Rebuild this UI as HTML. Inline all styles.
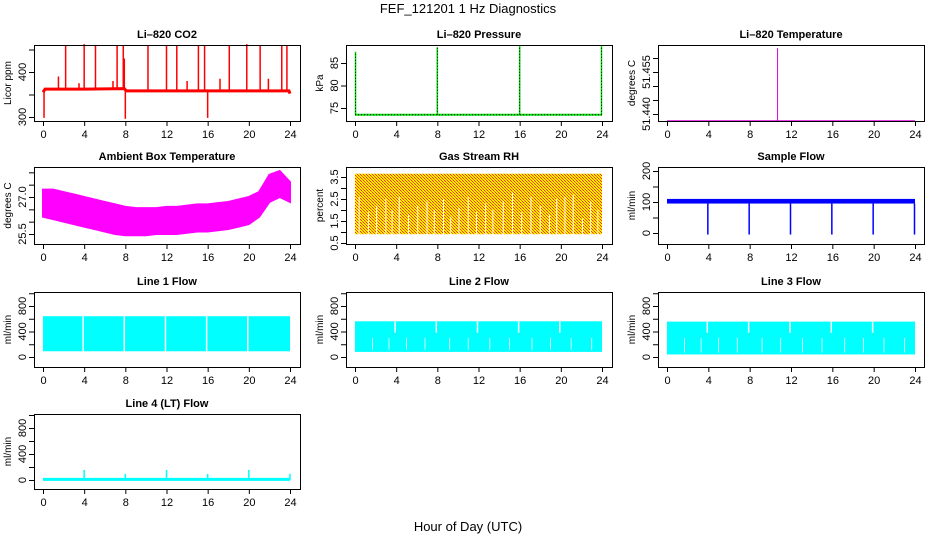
<!DOCTYPE html>
<html><head><meta charset="utf-8"><style>
html,body{margin:0;padding:0;background:#fff;width:936px;height:540px;overflow:hidden}
svg{display:block;font-family:"Liberation Sans",sans-serif}
</style></head><body>
<svg id="c" width="936" height="540" xmlns="http://www.w3.org/2000/svg">
<defs><pattern id="rh" width="3" height="3" patternUnits="userSpaceOnUse"><rect width="3" height="3" fill="#ffee00"/><rect width="1" height="1" fill="#ff3000"/><rect x="1" y="1" width="1" height="1" fill="#ff3000"/><rect x="2" y="2" width="1" height="1" fill="#ff6000"/></pattern></defs>
<text x="468" y="13" text-anchor="middle" font-size="13">FEF_121201  1 Hz Diagnostics</text>
<text x="468" y="531" text-anchor="middle" font-size="13">Hour of Day (UTC)</text>
</svg>
<script>
// ---- data ----
const xTicks=[0,4,8,12,16,20,24];
const co2BaseT=[0,0.2,4,7.9,8.1,12,16,20,23.9,24];
const co2BaseV=[355,362,362,363,358,358,358,358,358,352];
const co2SpikeT=[0.1,2.2,4,5.1,7.2,7.8,7.9,8,10.2,12,13,15.1,15.7,16,18.1,19.8,21.1,23.2,23.7,1.5,3.5,6.8,14,17.2,21.9];
const co2SpikeV=[298,460,462,460,460,460,430,296,460,460,460,460,460,298,460,462,460,460,460,390,375,380,380,385,385];
const presSpikeT=[0.05,8,16,23.95];
const presSpikeV=[87.5,88.5,89,89];
const presBase=73.5;
const ltempBase=51.4375, ltempSpikeT=10.7, ltempSpikeV=51.4635;
const ambT=[0,1,2,3,4,5,6,7,8,9,10,11,12,13,14,15,16,17,18,19,20,21,22,23,24];
const ambHi=[27.3,27.3,27.2,27.1,27.0,26.9,26.8,26.7,26.6,26.55,26.55,26.55,26.6,26.6,26.65,26.7,26.7,26.75,26.8,26.9,27.0,27.2,27.9,28.05,27.6];
const ambLo=[26.2,26.1,26.0,25.9,25.8,25.7,25.6,25.5,25.45,25.45,25.45,25.5,25.5,25.5,25.55,25.6,25.6,25.65,25.7,25.8,25.9,26.2,26.8,27.0,26.8];
const rhHi=3.65, rhLo=0.9;
const rhGapT=[0.4,1.3,2.1,3.0,3.6,4.3,5.2,6.1,7.0,7.7,8.6,9.3,10.1,11.0,11.8,12.7,13.4,14.4,15.3,16.2,17.1,18.0,18.9,19.6,20.4,21.2,22.1,22.9,23.6];
const rhGapV=[2.6,1.9,2.2,2.5,2.0,2.6,1.8,2.2,2.4,2.0,2.5,1.7,2.1,2.6,1.9,2.3,2.0,2.4,2.8,1.9,2.6,2.2,1.8,2.5,2.6,2.7,1.6,2.4,2.0];
const sfHi=110, sfLo=95;
const sfDipT=[4,8,12,16,20,24];
const sfDipV=[-5,-5,-5,-5,-5,-5];
const l1Hi=640,l1Lo=90;
const l2Hi=560,l2Lo=80;
const l3Hi=555,l3Lo=40;
const blockGapT=[3.9,7.9,11.9,15.9,19.9];
const flowGapT=[1.7,3.3,5.0,6.8,9.2,11.0,13.1,15.0,17.2,19.0,21.0,23.0];
const l4Base=20;
const l4SpikeT=[4,8,12,16,20,24];
const l4SpikeV=[155,95,155,95,155,95];

// ---- layout ----
const cols=[{L:34,R:300,x0:43,x1:290},{L:346,R:612,x0:355,x1:602},{L:658,R:924,x0:667,x1:915}];
const rows=[{T:45,B:121},{T:167,B:244},{T:292,B:367},{T:414,B:489}];
const S=document.getElementById('c');
const NS='http://www.w3.org/2000/svg';
function el(tag,at,parent){const e=document.createElementNS(NS,tag);for(const k in at)e.setAttribute(k,at[k]);(parent||S).appendChild(e);return e;}
function panel(ci,ri,name,title,ylab,v0,p0,v1,p1,yticks,ylabels){
  const c=cols[ci],r=rows[ri];
  const g=el('g',{});
  
  
  const xs=t=>c.x0+(c.x1-c.x0)*t/24;
  const ys=v=>p0+(p1-p0)*(v-v0)/(v1-v0);
  const t=el('text',{x:(c.L+c.R)/2,y:r.T-7,'text-anchor':'middle','font-size':11,'font-weight':'bold'},g);t.textContent=title;
  
  
  const plot=el('g',{},g);
  const box=el('rect',{x:c.L+.5,y:r.T+.5,width:c.R-c.L,height:r.B-r.T,fill:'none',stroke:'#000'},g);
  
  
  const xa=el('g',{},g);
  
  
  xTicks.forEach(v=>{el('line',{x1:xs(v)+.5,x2:xs(v)+.5,y1:r.B,y2:r.B+5,stroke:'#000'},xa);
    const tx=el('text',{x:xs(v)+.5,y:r.B+17,'text-anchor':'middle','font-size':11},xa);tx.textContent=v;});
  const ya=el('g',{},g);
  
  
  yticks.forEach(v=>{el('line',{x1:c.L-5,x2:c.L,y1:ys(v)+.5,y2:ys(v)+.5,stroke:'#000'},ya);});
  ylabels.forEach(v=>{const y=ys(Number(v));const tx=el('text',{x:0,y:0,transform:`translate(${c.L-8},${y}) rotate(-90)`,'text-anchor':'middle','font-size':11},ya);tx.textContent=v;});
  const yl=el('text',{x:0,y:0,transform:`translate(${c.L-23},${(r.T+r.B)/2}) rotate(-90)`,'text-anchor':'middle','font-size':10},g);yl.textContent=ylab;
  
  
  return {plot,xs,ys};
}
function vline(p,x,ya,yb,col,w){return el('line',{x1:x,x2:x,y1:ya,y2:yb,stroke:col,'stroke-width':w||1},p);}

// CO2
{const P=panel(0,0,'co2','Li\u2013820 CO2','Licor ppm',300,117,400,72,[300,350,400,450],[300,400]);
 let d='';co2BaseT.forEach((t,i)=>{d+=(i?'L':'M')+P.xs(t)+' '+P.ys(co2BaseV[i]);});
 const ln=el('path',{d,fill:'none',stroke:'#ff0000','stroke-width':3},P.plot);
 
 co2SpikeT.forEach((t,i)=>{const b=P.ys(t<8?362:358);const s=vline(P.plot,P.xs(t),b,P.ys(co2SpikeV[i]),'#ff0000',1.5);
  });}
// Pressure
{const P=panel(1,0,'pressure','Li\u2013820 Pressure','kPa',75,108,85,63,[75,80,85],[75,80,85]);
 const b=el('line',{x1:P.xs(0),x2:P.xs(24),y1:P.ys(presBase),y2:P.ys(presBase),stroke:'#00dd00','stroke-width':2},P.plot);
 
 el('line',{x1:P.xs(0),x2:P.xs(24),y1:P.ys(presBase),y2:P.ys(presBase),stroke:'#000','stroke-width':1,'stroke-dasharray':'1 2'},P.plot);
 presSpikeT.forEach((t,i)=>{const s=vline(P.plot,P.xs(t),P.ys(presBase),P.ys(presSpikeV[i]),'#00dd00',1.5);
  
  el('line',{x1:P.xs(t),x2:P.xs(t),y1:P.ys(presBase),y2:P.ys(presSpikeV[i]),stroke:'#000','stroke-dasharray':'1 2'},P.plot);});}
// Li temp
{const P=panel(2,0,'li820-temp','Li\u2013820 Temperature','degrees C',51.44,114,51.455,72,[51.44,51.445,51.45,51.455,51.46],['51.440','51.455']);
 const b=el('line',{x1:P.xs(0),x2:P.xs(24),y1:P.ys(ltempBase),y2:P.ys(ltempBase),stroke:'#dd00dd','stroke-width':1.5},P.plot);
 
 vline(P.plot,P.xs(ltempSpikeT),P.ys(ltempBase)+1,P.ys(ltempSpikeV),'#dd00dd',1);}
// Ambient
{const P=panel(0,1,'ambient-temp','Ambient Box Temperature','degrees C',27,197,25.5,234,[25.5,26,26.5,27,27.5,28],['25.5','27.0']);
 let d='';ambT.forEach((t,i)=>{d+=(i?'L':'M')+P.xs(t)+' '+P.ys(ambHi[i]);});
 for(let i=ambT.length-1;i>=0;i--)d+='L'+P.xs(ambT[i])+' '+P.ys(ambLo[i]);
 const a=el('path',{d:d+'Z',fill:'#ff00ff',stroke:'#ff00ff','stroke-width':2},P.plot);
 }
// RH
{const P=panel(1,1,'gas-rh','Gas Stream RH','percent',0.5,243,3.5,177,[0.5,1,1.5,2,2.5,3,3.5],['0.5','1.5','2.5','3.5']);
 const a=el('rect',{x:P.xs(0),y:P.ys(rhHi),width:P.xs(24)-P.xs(0),height:P.ys(rhLo)-P.ys(rhHi),fill:'url(#rh)'},P.plot);
 
 rhGapT.forEach((t,i)=>{const g=vline(P.plot,P.xs(t),P.ys(rhLo)+1,P.ys(rhGapV[i]),'#fff',1);
  });}
// Sample flow
{const P=panel(2,1,'sample-flow','Sample Flow','ml/min',0,233,200,171,[0,50,100,150,200],[0,100,200]);
 const a=el('rect',{x:P.xs(0),y:P.ys(sfHi),width:P.xs(24)-P.xs(0),height:P.ys(sfLo)-P.ys(sfHi),fill:'#0000ff'},P.plot);
 
 sfDipT.forEach((t,i)=>{const s=vline(P.plot,P.xs(t)-0.5,P.ys(sfLo),P.ys(sfDipV[i]),'#0000ff',1.5);
  });}
// line flows
function flow(ci,ri,name,title,hi,lo,manyGaps){
 const P=panel(ci,ri,name,title,'ml/min',0,rows[ri].B-10,800,rows[ri].B-61,[0,200,400,600,800,1000],[0,400,800]);
 const a=el('rect',{x:P.xs(0),y:P.ys(hi),width:P.xs(24)-P.xs(0),height:P.ys(lo)-P.ys(hi),fill:'#00ffff'},P.plot);
 
 blockGapT.forEach(t=>{vline(P.plot,P.xs(t),P.ys(hi),P.ys(manyGaps?380:lo),'#fff',1.5);});
 if(manyGaps)flowGapT.forEach(t=>{vline(P.plot,P.xs(t),P.ys(300),P.ys(lo)-2,'#fff',0.8);});
 return P;}
flow(0,2,'line1-flow','Line 1 Flow',l1Hi,l1Lo,false);
flow(1,2,'line2-flow','Line 2 Flow',l2Hi,l2Lo,true);
flow(2,2,'line3-flow','Line 3 Flow',l3Hi,l3Lo,true);
{const P=panel(0,3,'line4-flow','Line 4 (LT) Flow','ml/min',0,480,800,428,[0,200,400,600,800,1000],[0,400,800]);
 const b=el('line',{x1:P.xs(0),x2:P.xs(24),y1:P.ys(l4Base/2),y2:P.ys(l4Base/2),stroke:'#00ffff','stroke-width':3},P.plot);
 
 l4SpikeT.forEach((t,i)=>{const s=vline(P.plot,P.xs(t),P.ys(0),P.ys(l4SpikeV[i]),'#00ffff',1.5);
  });}
</script>
</body></html>
